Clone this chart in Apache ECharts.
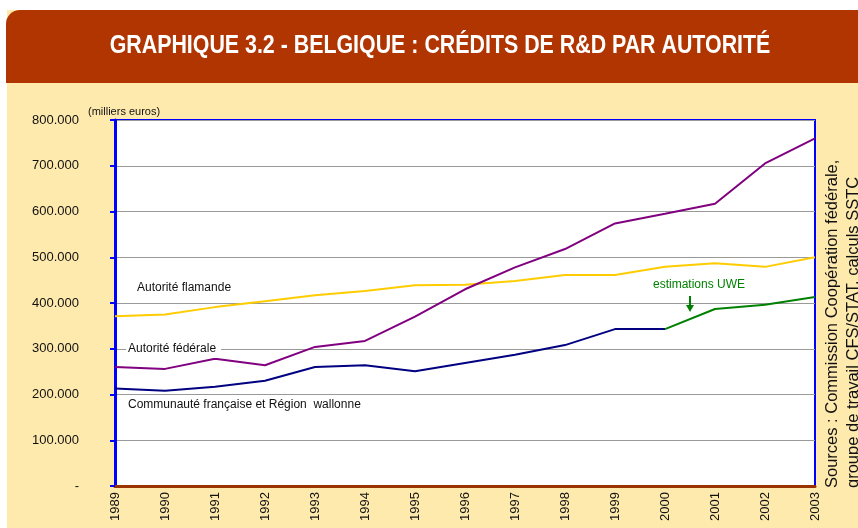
<!DOCTYPE html>
<html>
<head>
<meta charset="utf-8">
<script src="https://cdn.jsdelivr.net/npm/echarts@6/dist/echarts.min.js"></script>
<style>
  html, body { margin: 0; padding: 0; background: #fff; }
  #chart { width: 858px; height: 528px; }
</style>
</head>
<body>
<div id="chart"></div>
<script>
const years = ['1989', '1990', '1991', '1992', '1993', '1994', '1995', '1996',
  '1997', '1998', '1999', '2000', '2001', '2002', '2003']

// milliers euros
const flamande = [371, 375, 391, 404, 417, 426, 439, 440, 448, 461, 461, 479, 487, 479, 500]
const federale = [260, 256, 278, 264, 304, 317, 370, 430, 478, 518, 574, 595, 617, 705, 760]
const wallonne = [213, 208, 217, 230, 260, 264, 251, 269, 287, 308, 343, 343, null, null, null]
const uwe = [null, null, null, null, null, null, null, null, null, null, null, 343, 387, 396, 413]

const yTicks = [0, 100, 200, 300, 400, 500, 600, 700, 800]

const chart = echarts.init(document.getElementById('chart'))

const labelFont = 'Liberation Sans, Arial, sans-serif'

chart.setOption({
  backgroundColor: '#FFEAAE',
  animation: false,
  grid: {
    left: 115, right: 43, top: 120, bottom: 42,
    show: true,
    backgroundColor: '#fff',
    borderColor: '#0000ff',
    borderWidth: 2,
  },
  xAxis: {
    type: 'category',
    data: years,
    boundaryGap: false,
    axisLine: { lineStyle: { color: '#993300', width: 3 } },
    axisTick: { show: false },
    axisLabel: {
      rotate: 90,
      margin: 6,
      color: '#111',
      fontSize: 13,
      fontFamily: labelFont,
    },
  },
  yAxis: {
    type: 'value',
    min: 0, max: 800, interval: 100,
    axisLine: { show: true, lineStyle: { color: '#0000ff', width: 3 } },
    axisTick: { show: true, length: 5, lineStyle: { color: '#0000ff', width: 2 } },
    splitLine: { lineStyle: { color: '#999', width: 1 } },
    axisLabel: {
      margin: 36,
      color: '#111',
      fontSize: 13,
      fontFamily: labelFont,
      formatter: v => yTicks.includes(v) ? (v === 0 ? '-' : v + '.000') : '',
    },
  },
  series: [
    {
      name: 'Autorité flamande', type: 'line', data: flamande,
      symbol: 'none', lineStyle: { color: '#FFCC00', width: 2 },
    },
    {
      name: 'Autorité fédérale', type: 'line', data: federale,
      symbol: 'none', lineStyle: { color: '#800080', width: 2 },
    },
    {
      name: 'Communauté française et Région wallonne', type: 'line', data: wallonne,
      symbol: 'none', lineStyle: { color: '#000080', width: 2 },
    },
    {
      name: 'estimations UWE', type: 'line', data: uwe,
      symbol: 'none', lineStyle: { color: '#008000', width: 2 },
    },
  ],
  graphic: [
    { type: 'rect', shape: { x: 0, y: 0, width: 858, height: 10 }, style: { fill: '#fff' }, silent: true },
    { type: 'rect', shape: { x: 0, y: 0, width: 7, height: 528 }, style: { fill: '#fff' }, silent: true },
    { type: 'rect', shape: { x: 6, y: 10, width: 852, height: 73, r: [14, 0, 0, 0] }, style: { fill: '#B03500' }, silent: true },
    {
      // titre un peu condensé comme l'original
      type: 'text', x: 440, y: 46, scaleX: 0.855,
      style: {
        text: 'GRAPHIQUE 3.2 - BELGIQUE : CRÉDITS DE R&D PAR AUTORITÉ',
        fill: '#fff', font: 'bold 25px "Liberation Sans Narrow", sans-serif',
        textAlign: 'center', textVerticalAlign: 'middle',
      },
    },
    {
      type: 'text', x: 88, y: 112,
      style: { text: '(milliers euros)', fill: '#111', font: '11px ' + labelFont, textVerticalAlign: 'middle' },
    },
    {
      type: 'text', x: 137, y: 288, z: 100,
      style: { text: 'Autorité flamande', fill: '#111', font: '12px ' + labelFont, textVerticalAlign: 'middle' },
    },
    {
      type: 'text', x: 126, y: 349, z: 100,
      style: {
        text: 'Autorité fédérale', fill: '#111', font: '12px ' + labelFont, textVerticalAlign: 'middle',
        backgroundColor: '#fff', padding: [3, 5, 3, 2],
      },
    },
    {
      type: 'text', x: 128, y: 405, z: 100,
      style: { text: 'Communauté française et Région  wallonne', fill: '#111', font: '12px ' + labelFont, textVerticalAlign: 'middle' },
    },
    {
      type: 'text', x: 653, y: 285, z: 100,
      style: { text: 'estimations UWE', fill: '#008000', font: '12px ' + labelFont, textVerticalAlign: 'middle' },
    },
    {
      type: 'line', z: 100, shape: { x1: 690, y1: 296, x2: 690, y2: 307 },
      style: { stroke: '#008000', lineWidth: 2 },
    },
    {
      type: 'polygon', z: 100, shape: { points: [[686, 305], [694, 305], [690, 312]] },
      style: { fill: '#008000' },
    },
    {
      type: 'text', x: 832, y: 488, rotation: Math.PI / 2,
      style: {
        text: 'Sources : Commission Coopération fédérale,', fill: '#111',
        font: '16.5px ' + labelFont, textAlign: 'left', textVerticalAlign: 'middle',
      },
    },
    {
      type: 'text', x: 853, y: 488, rotation: Math.PI / 2,
      style: {
        text: 'groupe de travail CFS/STAT, calculs SSTC', fill: '#111',
        font: '16.5px ' + labelFont, textAlign: 'left', textVerticalAlign: 'middle',
      },
    },
  ],
})
</script>
</body>
</html>
